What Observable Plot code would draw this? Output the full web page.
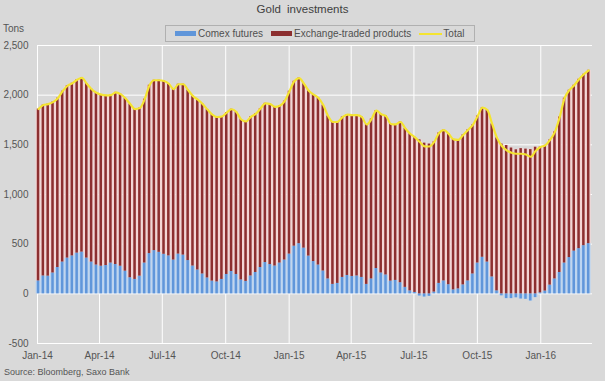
<!DOCTYPE html>
<html><head><meta charset="utf-8">
<script src="https://cdn.jsdelivr.net/npm/d3@7"></script>
<script src="https://cdn.jsdelivr.net/npm/@observablehq/plot@0.6"></script>
<style>
body{margin:0;background:#d9d9d9;}
#wrap{position:relative;width:605px;height:381px;background:#d9d9d9;font-family:"Liberation Sans",Arial,sans-serif;color:#555;overflow:hidden}
#wrap svg{position:absolute;left:0;top:0}
.t{position:absolute;white-space:nowrap}
#legend{position:absolute;left:165px;top:25px;width:299px;height:15px;border:1px solid #b0b0b0;display:flex;align-items:center;padding-left:9px;box-sizing:content-box;font-size:10px;color:#505050}
#legend .it{display:flex;align-items:center;margin-right:8px}
#legend .sw{width:21px;height:5px;margin-right:2px}
#legend .ln{width:23px;height:2px;margin-right:1px}
</style></head><body>
<div id="wrap">
  <div class="t" id="title" style="left:0;width:605px;text-align:center;top:3px;font-size:11.5px;color:#404040;word-spacing:3px"></div>
  <div class="t" id="unit" style="left:3px;top:23px;font-size:10px;color:#555"></div>
  <div id="legend"></div>
  <div class="t" id="source" style="left:4px;top:367px;font-size:9px;color:#555"></div>
</div>
<script>
const titleText = "Gold investments";
const unitText = "Tons";
const sourceText = "Source: Bloomberg, Saxo Bank";
const seriesNames = ["Comex futures", "Exchange-traded products", "Total"];
const seriesColors = ["#6096da", "#8c2f30", "#f4e431"];
const seriesLight = ["#bcd5f2", "#f5d6d6"];

// weekly values, first week starting 2013-12-30
const comex = [130,180,178,210,265,320,360,382,410,420,
360,320,290,278,285,310,295,278,228,162,
145,178,310,405,435,418,398,382,340,400,
390,335,280,240,200,160,128,120,145,195,
225,195,140,125,180,215,265,315,295,280,
310,340,400,480,505,460,380,325,290,230,
150,95,105,165,185,175,180,165,95,150,
255,210,190,128,135,112,65,30,14,-22,
-32,-25,18,105,130,92,40,50,90,130,
200,310,368,320,170,30,-20,-48,-48,-40,
-52,-55,-72,-38,10,28,88,150,215,310,
365,430,455,485,505];
const total = [1860,1900,1910,1930,1970,2040,2095,2120,2155,2175,
2115,2060,2025,2005,1998,2000,2028,2010,1968,1910,
1860,1870,1960,2100,2150,2150,2142,2115,2060,2110,
2110,2050,1990,1955,1910,1855,1805,1780,1785,1825,
1858,1830,1755,1735,1782,1812,1865,1918,1910,1882,
1893,1940,2040,2140,2172,2115,2045,2005,1972,1900,
1790,1730,1732,1780,1805,1798,1800,1780,1705,1760,
1845,1808,1790,1710,1705,1730,1665,1612,1575,1528,
1485,1483,1530,1620,1648,1610,1555,1550,1600,1650,
1700,1790,1875,1850,1710,1570,1488,1445,1420,1410,
1410,1402,1380,1438,1478,1495,1550,1630,1780,1970,
2050,2100,2160,2210,2250];
const firstWeek = "2013-12-30";
const xDomain = ["2014-01-01", "2016-03-16"];
const xTickDates = ["2014-01-01","2014-04-01","2014-07-01","2014-10-01","2015-01-01","2015-04-01","2015-07-01","2015-10-01","2016-01-01"];
const xTickLabels = ["Jan-14","Apr-14","Jul-14","Oct-14","Jan-15","Apr-15","Jul-15","Oct-15","Jan-16"];
const yTicks = [-500,0,500,1000,1500,2000,2500];
const yTickLabels = ["-500","0","500","1,000","1,500","2,000","2,500"];

document.getElementById("title").textContent = titleText;
document.getElementById("unit").textContent = unitText;
document.getElementById("source").textContent = sourceText;
const lg = document.getElementById("legend");
seriesNames.forEach((n, i) => {
  const it = document.createElement("div"); it.className = "it";
  const sw = document.createElement("div"); sw.className = i < 2 ? "sw" : "ln"; sw.style.background = seriesColors[i];
  const tx = document.createElement("span"); tx.textContent = n;
  it.appendChild(sw); it.appendChild(tx); lg.appendChild(it);
});

const start = new Date(firstWeek);
const rows = [];
const pts = [];
comex.forEach((c, i) => {
  const d0 = d3.utcDay.offset(start, 7 * i), d1 = d3.utcDay.offset(start, 7 * i + 7);
  const etp = total[i] - c;
  const base = Math.max(0, c);
  rows.push({x1: d0, x2: d1, y1: 0, y2: c, s: 0});
  rows.push({x1: d0, x2: d1, y1: base, y2: base + etp, s: 1});
  pts.push({x: d3.utcHour.offset(d0, 84), y: total[i]});
});
const xTicks = xTickDates.map(d => new Date(d));
const xLab = new Map(xTicks.map((d, i) => [+d, xTickLabels[i]]));
const yLab = new Map(yTicks.map((v, i) => [v, yTickLabels[i]]));

const chart = Plot.plot({
  width: 605, height: 381,
  marginLeft: 37, marginRight: 13, marginTop: 45, marginBottom: 38,
  style: {background: "transparent", fontFamily: "'Liberation Sans', Arial, sans-serif", fontSize: "10px", color: "#555"},
  x: {type: "utc", domain: xDomain.map(d => new Date(d))},
  y: {domain: [-500, 2500]},
  marks: [
    Plot.gridY(yTicks, {stroke: "#fff", strokeOpacity: 1, strokeWidth: 1}),
    Plot.gridX(xTicks, {stroke: "#fff", strokeOpacity: 1, strokeWidth: 1}),
    Plot.rect(rows, {x1: "x1", x2: "x2", y1: "y1", y2: "y2", fill: d => seriesLight[d.s]}),
    Plot.rect(rows, {x1: "x1", x2: "x2", y1: "y1", y2: "y2", fill: d => seriesColors[d.s], insetLeft: 1.15, insetRight: 1.15}),
    Plot.line(pts, {x: "x", y: "y", stroke: seriesColors[2], strokeWidth: 2.2, curve: "monotone-x"}),
    Plot.axisX(xTicks, {tickSize: 0, tickPadding: 8, tickFormat: d => xLab.get(+d), fill: "#555"}),
    Plot.axisY(yTicks, {tickSize: 0, tickPadding: 9, tickFormat: v => yLab.get(v), fill: "#555"})
  ]
});
document.getElementById("wrap").insertBefore(chart, document.getElementById("title"));
</script>
</body></html>
